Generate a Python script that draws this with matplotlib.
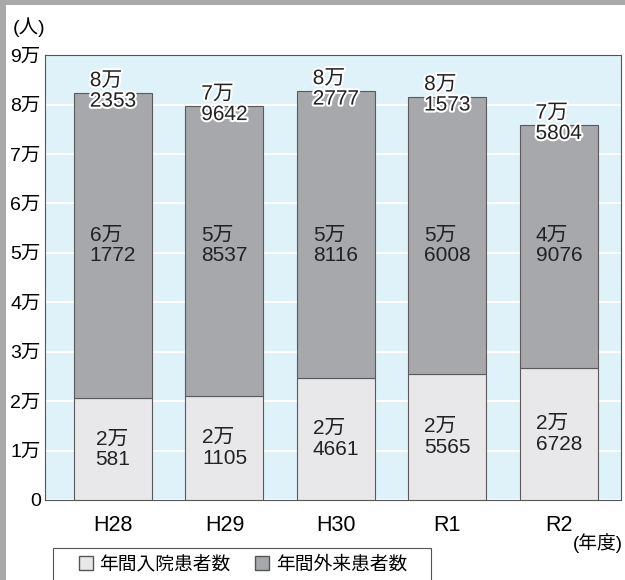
import matplotlib.pyplot as plt
import matplotlib.patheffects as pe
from matplotlib.patches import Patch, Rectangle

plt.rcParams['font.family'] = ['Liberation Sans', 'Noto Sans CJK JP']

years = ['H28', 'H29', 'H30', 'R1', 'R2']
inpatients = [20581, 21105, 24661, 25565, 26728]
outpatients = [61772, 58537, 58116, 56008, 49076]
y_ticks = [0, 10000, 20000, 30000, 40000, 50000, 60000, 70000, 80000, 90000]
y_tick_labels = ['0', '1万', '2万', '3万', '4万', '5万', '6万', '7万', '8万', '9万']


def man_label(value):
    # e.g. 82353 -> "8万\n2353"
    return f'{value // 10000}万\n{value % 10000}'


fig = plt.figure(figsize=(6.25, 5.8), dpi=100)

# gray stone border on the left / top edge of the page
fig.patches.append(Rectangle((0, 0), 0.01, 1, transform=fig.transFigure,
                             facecolor='#a9a9a9', edgecolor='none', zorder=0))
fig.patches.append(Rectangle((0, 0.991), 1, 0.009, transform=fig.transFigure,
                             facecolor='#a9a9a9', edgecolor='none', zorder=0))

ax = fig.add_axes([0.072, 0.138, 0.922, 0.767])
ax.set_facecolor('#dff2f9')

x = list(range(len(years)))
totals = [a + b for a, b in zip(inpatients, outpatients)]

ax.bar(x, inpatients, width=0.7, color='#e8e8ea', edgecolor='#5a5a5a', linewidth=0.8, zorder=3)
ax.bar(x, outpatients, width=0.7, bottom=inpatients, color='#a7a8ab',
       edgecolor='#5a5a5a', linewidth=0.8, zorder=3)

label_kw = dict(fontsize=15, color='#222222', linespacing=1.1, multialignment='left',
                ha='center', va='center')
for i in x:
    ax.text(i, inpatients[i] / 2, man_label(inpatients[i]), zorder=4, **label_kw)
    # outpatient labels all sit on one line in the original
    ax.text(i, 51500, man_label(outpatients[i]), zorder=4, **label_kw)
    ax.text(i, totals[i] + 400, man_label(totals[i]), zorder=5,
            path_effects=[pe.withStroke(linewidth=3, foreground='white')], **label_kw)

ax.set_xlim(-0.61, 4.56)
ax.set_ylim(0, 90000)
ax.set_yticks(y_ticks)
ax.set_yticklabels(y_tick_labels, fontsize=14)
ax.set_xticks(x)
ax.set_xticklabels(years, fontsize=15.5)
ax.tick_params(axis='y', length=0, pad=3)
ax.tick_params(axis='x', length=0, pad=11)
ax.yaxis.grid(True, color='white', linewidth=1.5, zorder=0)
ax.set_axisbelow(True)
for side in ['top', 'right', 'left', 'bottom']:
    ax.spines[side].set_color('#555555')
    ax.spines[side].set_linewidth(0.8)

fig.text(0.021, 0.953, '(人)', fontsize=14, ha='left', va='center')
fig.text(0.997, 0.064, '(年度)', fontsize=13.5, ha='right', va='center')

# legend frame runs off the bottom edge like in the original
fig.patches.append(Rectangle((0.0848, -0.02), 0.6048, 0.0752, transform=fig.transFigure,
                             facecolor='white', edgecolor='#555555', linewidth=0.8))
handles = [Patch(facecolor='#e8e8ea', edgecolor='#555555', label='年間入院患者数'),
           Patch(facecolor='#a7a8ab', edgecolor='#555555', label='年間外来患者数')]
fig.legend(handles=handles, loc='center left', bbox_to_anchor=(0.126, 0.026), ncol=2,
           fontsize=13.5, frameon=False, handlelength=0.75, handleheight=0.75,
           handletextpad=0.36, columnspacing=1.3, borderpad=0, borderaxespad=0)

fig.savefig('out.png', dpi=100)
